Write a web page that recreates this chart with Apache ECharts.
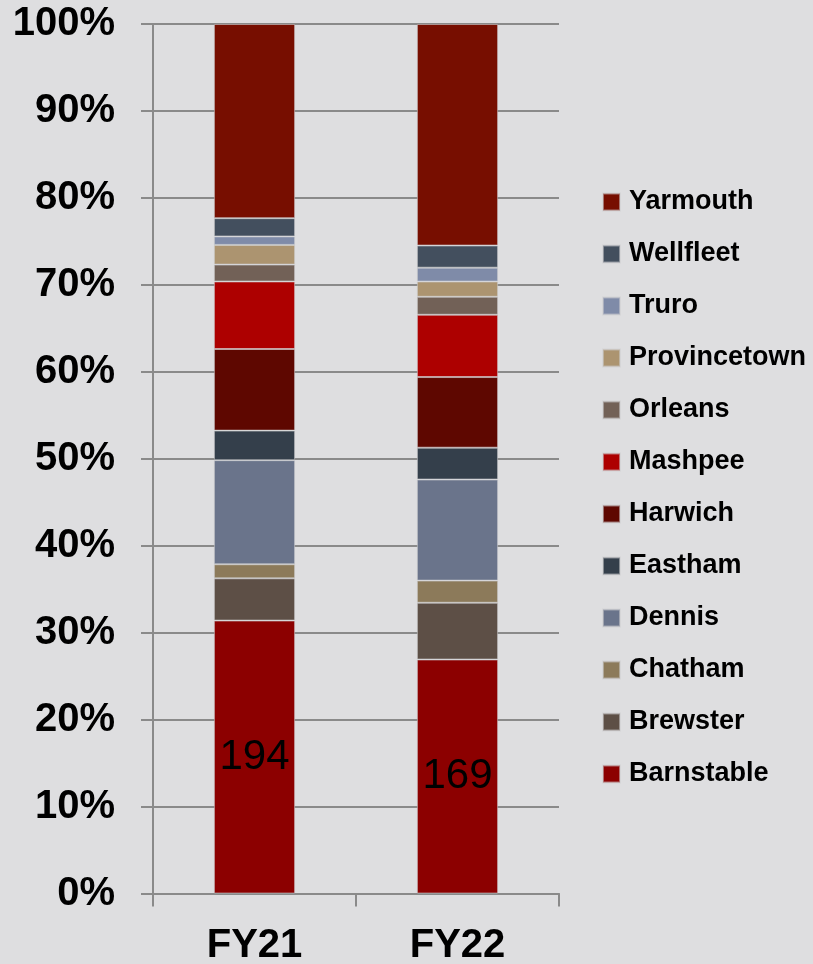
<!DOCTYPE html>
<html>
<head>
<meta charset="utf-8">
<script src="https://cdn.jsdelivr.net/npm/echarts@6/dist/echarts.min.js"></script>
<style>
  html, body { margin: 0; padding: 0; background: #dedee0; }
  #chart { width: 813px; height: 964px; }
</style>
</head>
<body>
<div id="chart"></div>
<script>
// Fiscal years on the category axis
var years = ['FY21', 'FY22'];

// Towns, stacked from the bottom of each bar upward
var towns = ['Barnstable', 'Brewster', 'Chatham', 'Dennis', 'Eastham', 'Harwich',
             'Mashpee', 'Orleans', 'Provincetown', 'Truro', 'Wellfleet', 'Yarmouth'];

// Counts per town for each year
var fy21 = [194, 30, 10, 74, 21, 58, 48, 12, 14, 6, 13, 138];
var fy22 = [169, 41, 16, 73, 23, 51, 45, 13, 11, 10, 16, 160];

// Fill colour per town (same order as towns)
var townColors = ['#8c0000', '#5d4f46', '#8c7a5a', '#6a748b', '#343f4b', '#5e0700',
                  '#ad0000', '#726157', '#ac9470', '#7f8ba8', '#434f5e', '#770e00'];

// Percent-axis tick values
var yTicks = [0, 10, 20, 30, 40, 50, 60, 70, 80, 90, 100];

var counts = [fy21, fy22];
var totals = counts.map(function (arr) {
  return arr.reduce(function (a, b) { return a + b; }, 0);
});

var FONT = '"Liberation Sans", Arial, sans-serif';

var series = towns.map(function (name, i) {
  var s = {
    name: name,
    type: 'bar',
    stack: 'share',
    barWidth: '40%',
    itemStyle: {
      color: townColors[i],
      borderColor: 'rgba(205,205,208,0.55)',
      borderWidth: 1
    },
    data: counts.map(function (arr, k) {
      return { value: arr[i] / totals[k] * 100, count: arr[i] };
    })
  };
  if (i === 0) {
    s.label = {
      show: true,
      position: 'inside',
      color: '#000',
      fontFamily: FONT,
      fontSize: 42,
      formatter: function (p) { return String(p.data.count); }
    };
  }
  return s;
});

var chart = echarts.init(document.getElementById('chart'), null, { renderer: 'canvas' });
chart.setOption({
  backgroundColor: '#dedee0',
  animation: false,
  grid: {
    left: 153, right: 254, top: 24, bottom: 70.5,
    containLabel: false,
    outerBoundsMode: 'none'
  },
  legend: {
    orient: 'vertical',
    left: 602,
    top: 187,
    padding: 0,
    icon: 'rect',
    itemWidth: 17,
    itemHeight: 17,
    itemGap: 22,
    data: towns.slice().reverse(),
    textStyle: {
      color: '#000',
      fontFamily: FONT,
      fontWeight: 'bold',
      fontSize: 27,
      lineHeight: 30,
      padding: [0, 0, 0, 4]
    }
  },
  xAxis: {
    type: 'category',
    data: years,
    axisLine: { lineStyle: { color: '#8a8a8a', width: 2 } },
    axisTick: { show: true, length: 13, lineStyle: { color: '#8a8a8a', width: 2 } },
    axisLabel: {
      color: '#000',
      fontFamily: FONT,
      fontWeight: 'bold',
      fontSize: 40,
      margin: 32
    }
  },
  yAxis: {
    type: 'value',
    min: yTicks[0],
    max: yTicks[yTicks.length - 1],
    interval: yTicks[1] - yTicks[0],
    axisLine: { show: true, lineStyle: { color: '#8a8a8a', width: 2 } },
    axisTick: { show: true, length: 12, lineStyle: { color: '#8a8a8a', width: 2 } },
    splitLine: { lineStyle: { color: '#8a8a8a', width: 2 } },
    axisLabel: {
      color: '#000',
      fontFamily: FONT,
      fontWeight: 'bold',
      fontSize: 40,
      margin: 38,
      formatter: '{value}%'
    }
  },
  series: series
});
</script>
</body>
</html>
